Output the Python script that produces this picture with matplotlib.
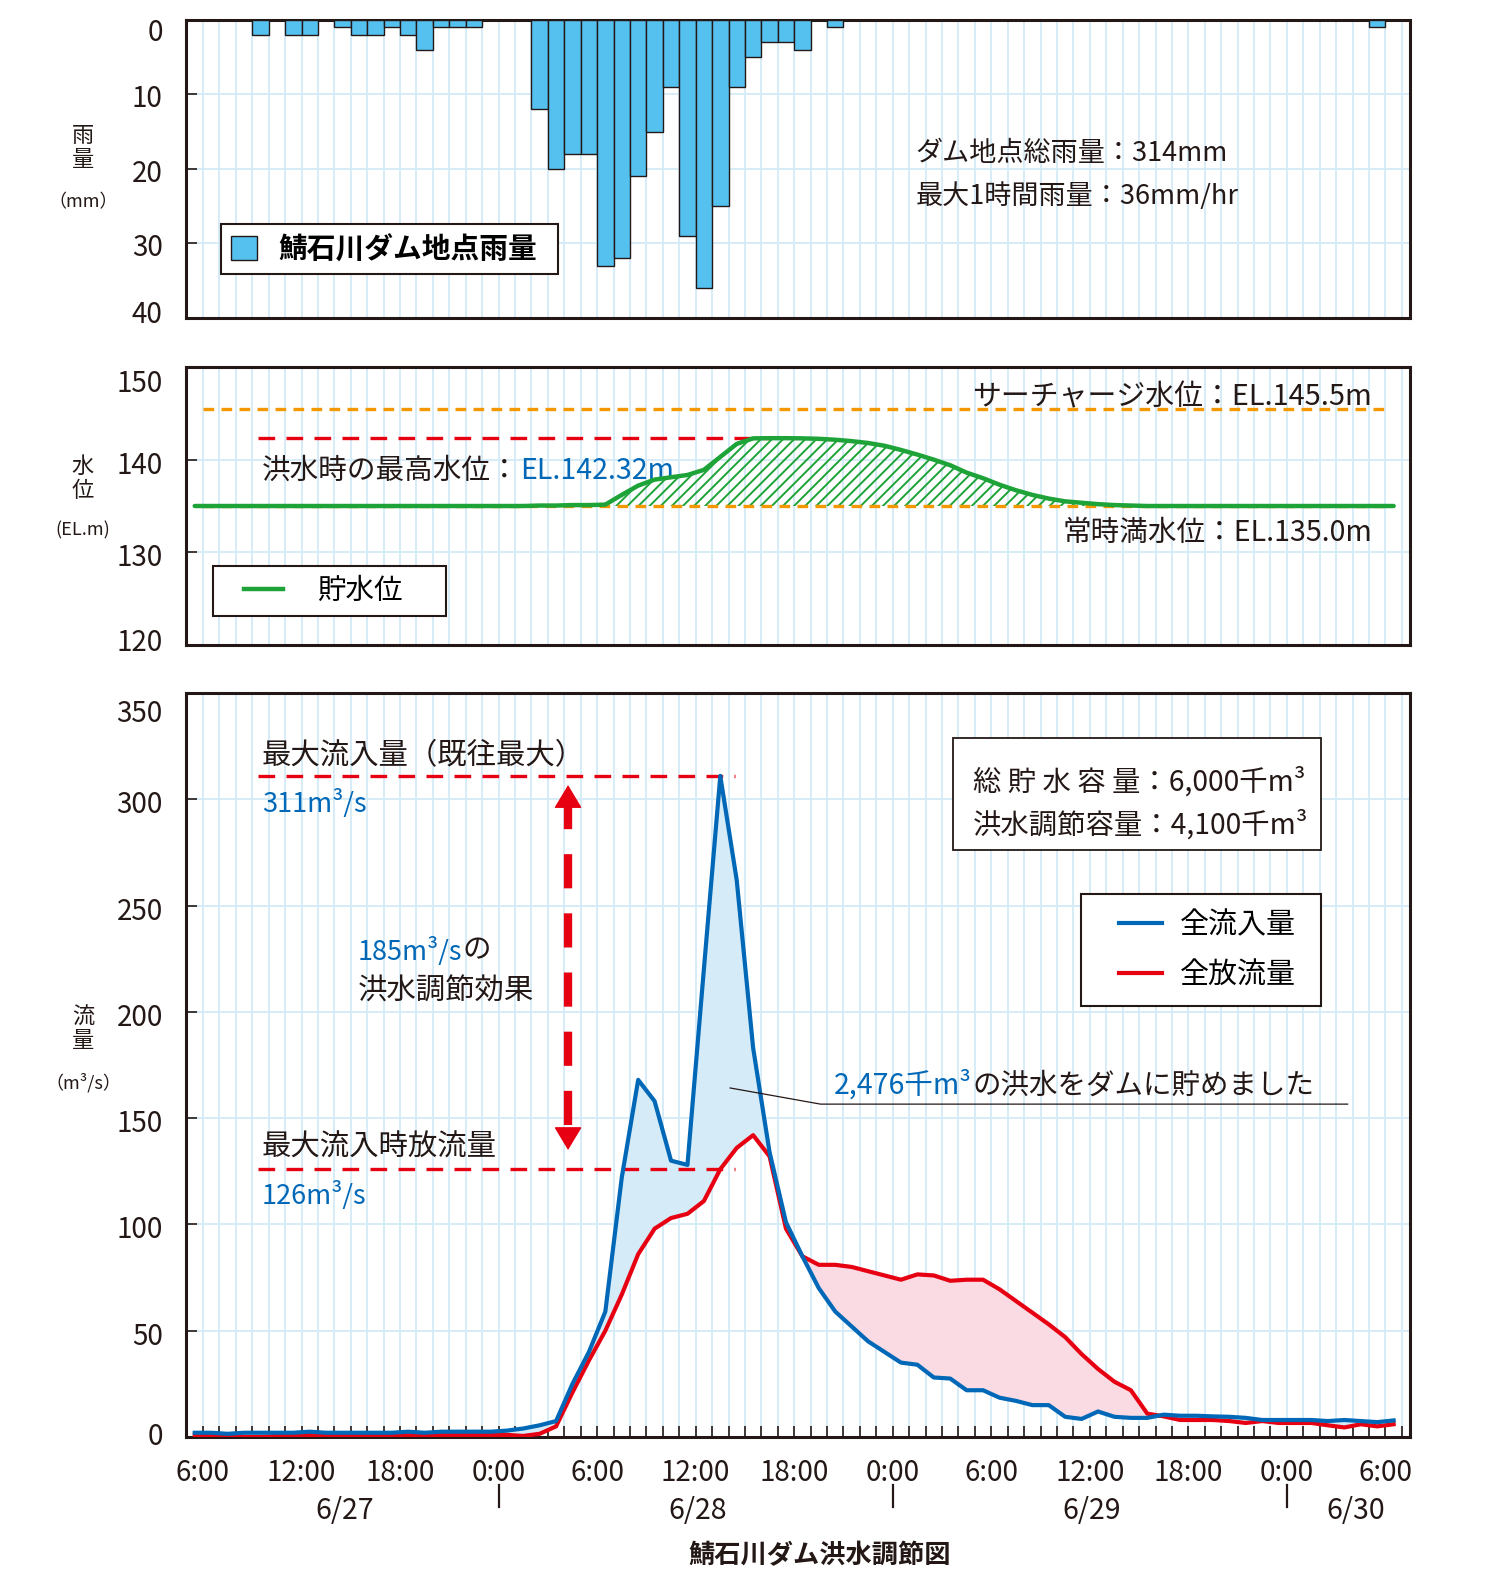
import numpy as np
import matplotlib
matplotlib.use("Agg")
import matplotlib.pyplot as plt
from matplotlib.patches import Patch, Rectangle
from matplotlib.lines import Line2D
from matplotlib.legend_handler import HandlerLine2D
from matplotlib.transforms import offset_copy

plt.rcParams['font.family'] = ['Noto Sans CJK JP', 'DejaVu Sans']
plt.rcParams['hatch.linewidth'] = 1.4

# --------------------------------------------------------------
# Data : hourly values, each drawn at the middle of its hour
# (hour 0 = 6/27 6:00)
# --------------------------------------------------------------
hours = np.arange(74) - 0.5

rain_mm = [0, 0, 0, 0, 2, 0, 2, 2, 0, 1,
           2, 2, 1, 2, 4, 1, 1, 1, 0, 0,
           0, 12, 20, 18, 18, 33, 32, 21, 15, 9,
           29, 36, 25, 9, 5, 3, 3, 4, 0, 1,
           0, 0, 0, 0, 0, 0, 0, 0, 0, 0,
           0, 0, 0, 0, 0, 0, 0, 0, 0, 0,
           0, 0, 0, 0, 0, 0, 0, 0, 0, 0,
           0, 0, 1, 0]

inflow = [2, 2, 1.5, 2, 2, 2, 2, 2.5, 2, 2,
          2, 2, 2, 2.5, 2, 2.5, 2.5, 2.5, 2.5, 3,
          4, 5.5, 7.5, 25, 40, 59, 122, 168, 158, 130,
          128, 220, 311, 262, 183, 134, 101, 85, 70, 59,
          52, 45, 40, 35, 34, 28, 27.5, 22, 22, 18.5,
          17, 15, 15, 9.5, 8.5, 12, 9.5, 9, 9, 10.5,
          10, 10, 9.7, 9.5, 9, 8, 8, 8, 8, 7.5,
          8, 7.5, 7, 7.8]

outflow = [1, 1, 0.3, 0, 0, 0.5, 1, 1, 1, 1,
           1, 1, 1, 1, 1, 1, 1, 1, 1, 1,
           0.5, 1.5, 5, 21, 36, 50, 67, 86, 98, 103,
           105, 111, 126, 136, 142, 132, 98, 85, 81, 81,
           80, 78, 76, 74, 76.5, 76, 73.5, 74, 74, 69.5,
           64, 58.5, 53, 47, 39, 32, 26, 22, 11, 9.7,
           8, 8, 8, 7.5, 6.6, 7.5, 6.6, 6.6, 6.6, 5.5,
           4.5, 6, 5, 6]

level = [135.0, 135.0, 135.0, 135.0, 135.0, 135.0, 135.0, 135.0, 135.0, 135.0,
         135.0, 135.0, 135.0, 135.0, 135.0, 135.0, 135.0, 135.0, 135.0, 135.0,
         135.0, 135.05, 135.05, 135.1, 135.1, 135.15, 136.2, 137.2, 137.85, 138.1,
         138.35, 138.9, 140.3, 141.7, 142.3, 142.32, 142.32, 142.3, 142.25, 142.15,
         142.0, 141.8, 141.5, 141.05, 140.55, 140.0, 139.4, 138.6, 138.0, 137.3,
         136.7, 136.2, 135.8, 135.5, 135.35, 135.2, 135.1, 135.05, 135.0, 135.0,
         135.0, 135.0, 135.0, 135.0, 135.0, 135.0, 135.0, 135.0, 135.0, 135.0,
         135.0, 135.0, 135.0, 135.0]

normal_level = 135.0
surcharge_level = 145.5
max_level = 142.32
max_inflow = 311
outflow_at_max = 126

time_ticks = list(range(0, 73, 6))
time_labels = ['6:00', '12:00', '18:00', '0:00', '6:00', '12:00', '18:00',
               '0:00', '6:00', '12:00', '18:00', '0:00', '6:00']
date_labels = ['6/27', '6/28', '6/29', '6/30']
date_pos = [8.65, 30.15, 54.1, 70.2]
day_breaks = [18, 42, 66]

# --------------------------------------------------------------
# Colours
# --------------------------------------------------------------
INK = '#231815'
GRID = '#d4ebf8'
BAR = '#55c1ef'
BLUE = '#0068b7'
RED = '#e60012'
GREEN = '#1ea338'
ORANGE = '#f39800'
BLUE_FILL = '#d5ebf8'
PINK_FILL = '#fadbe3'

fig = plt.figure(figsize=(14.92, 15.78), dpi=100)


def base_axes(rect, ylim, yticks, ylabels, offsets):
    ax = fig.add_axes(rect)
    ax.set_xlim(-1.03, 73.5)
    ax.set_ylim(*ylim)
    ax.set_xticks(time_ticks)
    ax.set_xticks(range(0, 74), minor=True)
    ax.set_yticks(yticks)
    ax.grid(which='both', axis='x', color=GRID, lw=1.3)
    ax.grid(which='major', axis='y', color=GRID, lw=1.3)
    ax.set_axisbelow(True)
    ax.tick_params(axis='y', direction='in', length=8, width=1.2,
                   color=INK, labelleft=False)
    ax.tick_params(axis='x', which='both', length=0, labelbottom=False)
    for s in ax.spines.values():
        s.set_linewidth(2.2)
        s.set_color(INK)
    trans = ax.get_yaxis_transform()
    for v, lab, d in zip(yticks, ylabels, offsets):
        ax.text(-0.019, v, lab, ha='right', va='center', fontsize=20, color=INK,
                transform=offset_copy(trans, fig=fig, y=d, units='dots'))
    return ax


# --------------------------------------------------------------
# Rainfall
# --------------------------------------------------------------
ax1 = base_axes([0.1247, 0.79848, 0.82038, 0.18885], (40, 0),
                [0, 10, 20, 30, 40], ['0', '10', '20', '30', '40'],
                [-13, -5, -5, -5, 3])
ax1.bar(hours, rain_mm, width=1.0, color=BAR, edgecolor=INK, linewidth=1.0, zorder=3)
ax1.legend(handles=[Patch(facecolor=BAR, edgecolor=INK, linewidth=1.0)],
           labels=['鯖石川ダム地点雨量'], loc='upper left',
           bbox_to_anchor=(0.0286, 0.168, 0.2755, 0.147), mode='expand',
           borderaxespad=0, borderpad=0.35, handlelength=0.9, handleheight=0.9,
           handletextpad=0.75, fancybox=False, framealpha=1, edgecolor=INK,
           prop={'size': 20.7, 'weight': 'bold'}).get_frame().set_linewidth(1.5)
ax1.text(43.4, 17.95, 'ダム地点総雨量：314mm', fontsize=19.5, color=INK, va='center')
ax1.text(43.4, 23.6, '最大1時間雨量：36mm/hr', fontsize=19.5, color=INK, va='center')

# --------------------------------------------------------------
# Reservoir level
# --------------------------------------------------------------
ax2 = base_axes([0.1247, 0.59125, 0.82038, 0.17617], (120, 150),
                [120, 130, 140, 150], ['120', '130', '140', '150'],
                [2, -6, -6, -17])
lv = np.array(level)
ax2.fill_between(hours, lv, normal_level, where=lv > normal_level, interpolate=True,
                 facecolor='none', edgecolor=GREEN, hatch='///', linewidth=0, zorder=2)
ax2.plot([0, 72.3], [surcharge_level] * 2, color=ORANGE, lw=2.4, dashes=(3.2, 2.2), zorder=3)
ax2.plot([0, 72.0], [normal_level] * 2, color=ORANGE, lw=2.4, dashes=(3.2, 2.2), zorder=3)
ax2.plot([3.35, 34.5], [max_level] * 2, color=RED, lw=2.4, dashes=(5.0, 3.4), zorder=3)
ax2.plot(hours, lv, color=GREEN, lw=3.2, zorder=4, solid_capstyle='round')
ax2.text(71.2, 146.75, 'サーチャージ水位：EL.145.5m', fontsize=20.8, color=INK,
         ha='right', va='center')
ax2.text(71.2, 132.05, '常時満水位：EL.135.0m', fontsize=20.6, color=INK,
         ha='right', va='center')
t_max = ax2.text(3.6, 138.75, '洪水時の最高水位：', fontsize=20.6, color=INK, va='center')
ax2.annotate('EL.142.32m', xy=(1, 0), xycoords=t_max, fontsize=20.6, color=BLUE,
             va='bottom')
ax2.legend(handles=[Line2D([], [], color=GREEN, lw=3.2)], labels=['貯水位'],
           loc='upper left', bbox_to_anchor=(0.022, 0.126, 0.19, 0.158), mode='expand',
           borderaxespad=0, borderpad=0.35, handlelength=2.12, handletextpad=1.2,
           handler_map={Line2D: HandlerLine2D(xpad=0.75)},
           fancybox=False, framealpha=1, edgecolor=INK,
           prop={'size': 20.5}).get_frame().set_linewidth(1.5)

# --------------------------------------------------------------
# Inflow / outflow
# --------------------------------------------------------------
ax3 = base_axes([0.1247, 0.08935, 0.82038, 0.47148], (0, 350),
                [0, 50, 100, 150, 200, 250, 300, 350],
                ['0', '50', '100', '150', '200', '250', '300', '350'],
                [0, -6, -6, -6, -6, -6, -6, -21])
ax3.tick_params(axis='x', which='both', direction='in', length=8, width=1.2,
                color=INK, labelbottom=True, labelsize=20, labelcolor=INK, pad=15)
ax3.set_xticklabels(time_labels)

qin = np.array(inflow)
qout = np.array(outflow)
ax3.fill_between(hours, qin, qout, where=qin >= qout, interpolate=True,
                 color=BLUE_FILL, linewidth=0, zorder=2)
ax3.fill_between(hours, qin, qout, where=qout > qin, interpolate=True,
                 color=PINK_FILL, linewidth=0, zorder=2)
ax3.plot(hours, qout, color=RED, lw=3.0, zorder=4)
ax3.plot(hours, qin, color=BLUE, lw=3.0, zorder=5)

ax3.plot([3.35, 32.4], [max_inflow] * 2, color=RED, lw=2.4, dashes=(5.0, 3.4), zorder=3)
ax3.plot([3.35, 32.4], [outflow_at_max] * 2, color=RED, lw=2.4, dashes=(5.0, 3.4), zorder=3)

# double-headed dashed arrow
xa = 22.23
ax3.plot([xa, xa], [302, 140], color=RED, lw=6, dashes=(4.1, 3.0), zorder=6)
for y_tip, y_base in [(306.7, 297), (135, 145)]:
    ax3.annotate('', xy=(xa, y_tip), xytext=(xa, y_base),
                 arrowprops=dict(arrowstyle='-|>,head_length=0.75,head_width=0.45',
                                 mutation_scale=20, fc=RED, ec=RED, lw=1,
                                 shrinkA=0, shrinkB=0), zorder=6)

ax3.text(3.6, 320.7, '最大流入量（既往最大）', fontsize=21.2, color=INK, va='center')
ax3.text(3.6, 297.8, '311m³/s', fontsize=19.5, color=BLUE, va='center')
t185 = ax3.text(9.44, 228.6, '185m³/s', fontsize=19.5, color=BLUE, va='center')
ax3.annotate('の', xy=(1, 0), xycoords=t185, fontsize=20.5, color=INK, va='bottom')
ax3.text(9.44, 209.7, '洪水調節効果', fontsize=21.2, color=INK, va='center')
ax3.text(3.6, 136.4, '最大流入時放流量', fontsize=21.2, color=INK, va='center')
ax3.text(3.6, 113.4, '126m³/s', fontsize=19.5, color=BLUE, va='center')

t_vol = ax3.text(38.43, 165.5, '2,476千m³', fontsize=20.5, color=BLUE, va='center')
ax3.annotate('の洪水をダムに貯めました', xy=(1, 0), xycoords=t_vol, fontsize=20.5,
             color=INK, va='bottom')
ax3.plot([32.1, 37.6, 69.7], [164.2, 156.6, 156.6], color=INK, lw=0.9, zorder=6)

# capacity box
ax3.add_patch(Rectangle((0.6266, 0.789), 0.3006, 0.1505, transform=ax3.transAxes,
                        facecolor='white', edgecolor=INK, lw=1.3, zorder=7))
ax3.text(0.643, 0.880, '総 貯 水 容 量：6,000千m³', transform=ax3.transAxes,
         fontsize=20.4, color=INK, va='center', zorder=8)
ax3.text(0.643, 0.8226, '洪水調節容量：4,100千m³', transform=ax3.transAxes,
         fontsize=20.4, color=INK, va='center', zorder=8)

ax3.legend(handles=[Line2D([], [], color=BLUE, lw=3), Line2D([], [], color=RED, lw=3)],
           labels=['全流入量', '全放流量'], loc='upper left',
           bbox_to_anchor=(0.731, 0.579, 0.196, 0.151), mode='expand',
           borderaxespad=0, borderpad=0.55, labelspacing=0.7,
           handlelength=2.25, handletextpad=0.6,
           handler_map={Line2D: HandlerLine2D(xpad=0.75)},
           fancybox=False, framealpha=1, edgecolor=INK,
           prop={'size': 20.9}).get_frame().set_linewidth(1.5)

# dates under the time axis
date_trans = ax3.get_xaxis_transform()
for x, lab in zip(date_pos, date_labels):
    ax3.text(x, -0.0998, lab, transform=date_trans, fontsize=20.5, color=INK,
             ha='center', va='center', clip_on=False)
for x in day_breaks:
    ax3.plot([x, x], [-0.065, -0.094], transform=date_trans, color=INK, lw=1.6,
             clip_on=False)

# --------------------------------------------------------------
# Axis titles and caption
# --------------------------------------------------------------
fig.text(0.0556, 0.9068, '雨\n量', fontsize=16, color=INK, ha='center', va='center',
         linespacing=1.05)
fig.text(0.0556, 0.8720, '（mm）', fontsize=13, color=INK, ha='center', va='center')
fig.text(0.0556, 0.6970, '水\n位', fontsize=16, color=INK, ha='center', va='center',
         linespacing=1.05)
fig.text(0.0556, 0.6640, '(EL.m)', fontsize=13, color=INK, ha='center', va='center')
fig.text(0.0556, 0.3479, '流\n量', fontsize=16, color=INK, ha='center', va='center',
         linespacing=1.05)
fig.text(0.0556, 0.3140, '（m³/s）', fontsize=13, color=INK, ha='center', va='center')

fig.text(0.5496, 0.0140, '鯖石川ダム洪水調節図', fontsize=18.9, fontweight='bold',
         color=INK, ha='center', va='center')

fig.savefig('out.png', dpi=100, facecolor='white')
